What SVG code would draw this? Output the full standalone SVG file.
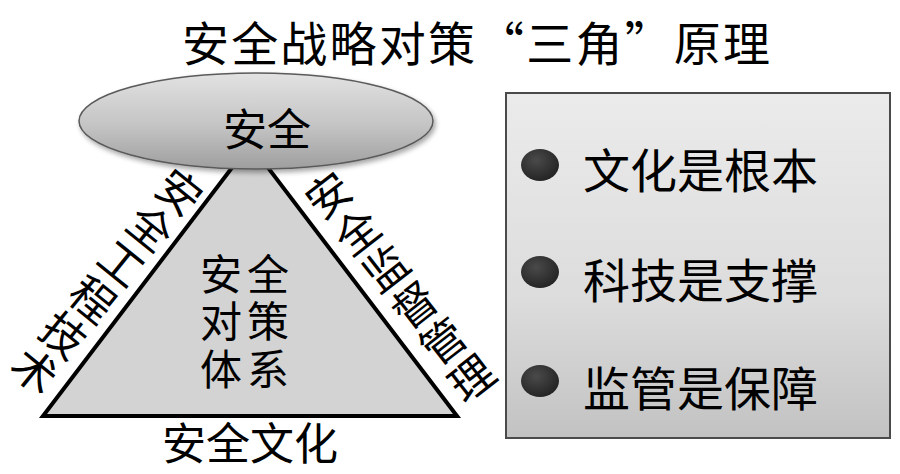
<svg xmlns="http://www.w3.org/2000/svg" width="900" height="474" viewBox="0 0 900 474">
  <defs>
    <linearGradient id="gEll" x1="0" y1="0" x2="0" y2="1">
      <stop offset="0" stop-color="#e2e2e2"/>
      <stop offset="0.55" stop-color="#c4c4c4"/>
      <stop offset="1" stop-color="#9e9e9e"/>
    </linearGradient>
    <linearGradient id="gBox" x1="0" y1="0" x2="0" y2="1">
      <stop offset="0" stop-color="#ebebeb"/>
      <stop offset="0.6" stop-color="#dcdcdc"/>
      <stop offset="1" stop-color="#c2c2c2"/>
    </linearGradient>
    <radialGradient id="gDot" cx="0.4" cy="0.35" r="0.7">
      <stop offset="0" stop-color="#4a4a4a"/>
      <stop offset="1" stop-color="#222"/>
    </radialGradient>
    <filter id="sh" x="-10%" y="-10%" width="130%" height="140%">
      <feDropShadow dx="2" dy="3" stdDeviation="2.5" flood-color="#000" flood-opacity="0.35"/>
    </filter>
  </defs>
  <style>
    text { font-family: "Noto Sans CJK SC", "Noto Sans", sans-serif; fill: #000; }
    .c { text-anchor: middle; dominant-baseline: central; }
    .t42 { font-size: 42px; }
    .t44 { font-size: 44px; }
    .t48 { font-size: 47px; }
  </style>
  <rect x="0" y="0" width="900" height="474" fill="#fff"/>

  <g id="title">
    <text x="182" y="40" class="t48" dominant-baseline="central" textLength="588" lengthAdjust="spacing">安全战略对策“三角”原理</text>
  </g>

  <g id="triangle">
    <polygon points="250,144 43,416 457,416" fill="#d3d3d3" stroke="#000" stroke-width="4" stroke-linejoin="miter"/>
    <text class="t42" x="200" y="271" dominant-baseline="central" letter-spacing="5"><tspan x="200" y="271">安全</tspan><tspan x="200" y="318">对策</tspan><tspan x="200" y="366">体系</tspan></text>
  </g>

  <g id="safety">
    <ellipse cx="256" cy="121" rx="177" ry="48" fill="url(#gEll)" stroke="#5a5a5a" stroke-width="1.5" filter="url(#sh)"/>
    <text class="c t44" x="267" y="127">安全</text>
  </g>

  <g id="label-left" transform="translate(181,190) rotate(39)">
    <text class="c t44" x="0" y="0">安</text>
    <text class="c t44" x="0" y="46">全</text>
    <text class="c t44" x="0" y="92">工</text>
    <text class="c t44" x="0" y="138">程</text>
    <text class="c t44" x="0" y="184">技</text>
    <text class="c t44" x="0" y="230">术</text>
  </g>

  <g id="label-right" transform="translate(327,193) rotate(-38)">
    <text class="c t44" x="0" y="0">安</text>
    <text class="c t44" x="0" y="46.5">全</text>
    <text class="c t44" x="0" y="93">监</text>
    <text class="c t44" x="0" y="139.5">督</text>
    <text class="c t44" x="0" y="186">管</text>
    <text class="c t44" x="0" y="232.5">理</text>
  </g>

  <g id="label-bottom">
    <text class="c t44" x="250" y="441">安全文化</text>
  </g>

  <g id="principles">
    <rect x="506" y="93" width="384" height="345" fill="url(#gBox)" stroke="#4a4a4a" stroke-width="2"/>
    <ellipse cx="540" cy="165" rx="19" ry="16" fill="url(#gDot)"/>
    <ellipse cx="540" cy="272" rx="19" ry="16" fill="url(#gDot)"/>
    <ellipse cx="540" cy="381" rx="19" ry="16" fill="url(#gDot)"/>
    <text class="t48" x="583" y="167" dominant-baseline="central">文化是根本</text>
    <text class="t48" x="583" y="277" dominant-baseline="central">科技是支撑</text>
    <text class="t48" x="583" y="385" dominant-baseline="central">监管是保障</text>
  </g>
</svg>
